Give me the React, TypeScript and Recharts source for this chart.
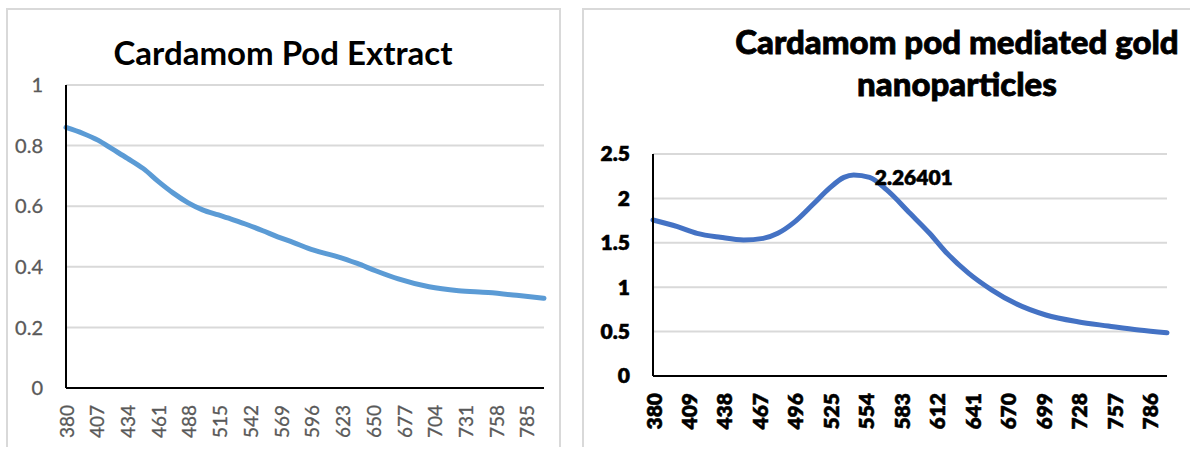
import React from 'react';
import { LineChart, Line, XAxis, YAxis, CartesianGrid } from 'recharts';

// Cardamom pod extract absorbance
const extractNm = [380, 395, 408, 421, 434, 448, 461, 474, 487, 500, 514, 527, 540, 553, 566, 580, 593, 606, 619, 636, 652, 672, 699, 725, 751, 778, 800];
const extractAbs = [0.86, 0.84, 0.818, 0.788, 0.758, 0.724, 0.682, 0.644, 0.612, 0.588, 0.571, 0.555, 0.538, 0.519, 0.499, 0.48, 0.461, 0.446, 0.433, 0.411, 0.387, 0.36, 0.334, 0.321, 0.315, 0.305, 0.296];
const extractTicks = [380, 407, 434, 461, 488, 515, 542, 569, 596, 623, 650, 677, 704, 731, 758, 785];
const extractY = [0, 0.2, 0.4, 0.6, 0.8, 1];

// Gold nanoparticles absorbance
const goldNm = [380, 400, 416, 435, 454, 470, 482, 495, 511, 524, 536, 544, 557, 571, 590, 606, 619, 638, 657, 676, 701, 727, 752, 777, 800];
const goldAbs = [1.757, 1.682, 1.607, 1.562, 1.532, 1.55, 1.607, 1.727, 1.937, 2.113, 2.237, 2.26401, 2.237, 2.095, 1.832, 1.607, 1.4, 1.156, 0.968, 0.818, 0.687, 0.611, 0.563, 0.518, 0.488];
const goldTicks = [380, 409, 438, 467, 496, 525, 554, 583, 612, 641, 670, 699, 728, 757, 786];
const goldY = [0, 0.5, 1, 1.5, 2, 2.5];

const extractData = extractNm.map((nm, i) => ({ nm, abs: extractAbs[i] }));
const goldData = goldNm.map((nm, i) => ({ nm, abs: goldAbs[i] }));
const peakIdx = goldAbs.indexOf(Math.max(...goldAbs));

const FONT = 'Lato, "Open Sans", sans-serif';

const RotTick = ({ x, y, payload, fill, weight, size, sw }: any) => (
  <text
    x={x}
    y={y}
    transform={`rotate(-90, ${x}, ${y})`}
    textAnchor="end"
    dominantBaseline="central"
    fill={fill}
    stroke={fill}
    strokeWidth={sw}
    fontWeight={weight}
    fontSize={size}
    fontFamily={FONT}
  >
    {payload.value}
  </text>
);

const PeakLabel = ({ x, y, index }: any) => {
  if (index !== peakIdx) return null;
  return (
    <text x={x + 21} y={y + 2} dominantBaseline="central" fontSize={21} fontWeight={800} fill="#000" stroke="#000" strokeWidth={0.5} fontFamily={FONT}>
      {goldAbs[peakIdx]}
    </text>
  );
};

const panel = (left: number, top: number, width: number): React.CSSProperties => ({
  position: 'absolute',
  left,
  top,
  width,
  height: 447 - top,
  borderTop: '2px solid #d9d9d9',
  borderLeft: '2px solid #d9d9d9',
  borderRight: '2px solid #d9d9d9',
  boxSizing: 'border-box',
});

export default function App() {
  return (
    <div style={{ position: 'absolute', left: 0, top: 0, width: 1190, height: 449, background: '#fff', overflow: 'hidden', fontFamily: FONT }}>
      <div style={panel(6, 8, 555)} />
      <div style={{ ...panel(582, 8, 640), borderRight: 'none' }} />

      <div style={{ position: 'absolute', left: 0, width: 566, top: 32, textAlign: 'center', fontSize: 33, fontWeight: 700, color: '#000', lineHeight: '40px', whiteSpace: 'nowrap' }}>
        Cardamom Pod Extract
      </div>
      <div style={{ position: 'absolute', left: 757, width: 400, top: 20, textAlign: 'center', fontSize: 33, fontWeight: 900, color: '#000', lineHeight: '42px', whiteSpace: 'nowrap', WebkitTextStroke: '0.8px #000' }}>
        <div style={{ marginLeft: -150, marginRight: -150 }}>Cardamom pod mediated gold</div>
        <div>nanoparticles</div>
      </div>

      <div style={{ position: 'absolute', left: 0, top: 0 }}>
        <LineChart width={575} height={449} data={extractData} margin={{ top: 85, right: 31, left: 16, bottom: 0 }}>
          <CartesianGrid vertical={false} stroke="#d9d9d9" strokeWidth={2} />
          <XAxis
            dataKey="nm"
            type="number"
            domain={[380, 800]}
            ticks={extractTicks}
            interval={0}
            height={61}
            tickSize={0}
            tickMargin={17}
            axisLine={{ stroke: '#000', strokeWidth: 2 }}
            tickLine={false}
            tick={<RotTick fill="#595959" weight={400} size={19} sw={0.3} />}
          />
          <YAxis
            type="number"
            domain={[0, 1]}
            ticks={extractY}
            width={50}
            tickSize={0}
            tickMargin={23}
            axisLine={{ stroke: '#000', strokeWidth: 2 }}
            tickLine={false}
            tick={{ fill: '#595959', stroke: '#595959', strokeWidth: 0.3, fontSize: 20, fontFamily: FONT }}
          />
          <Line type="monotone" dataKey="abs" stroke="#5b9bd5" strokeWidth={5} dot={false} isAnimationActive={false} strokeLinecap="round" />
        </LineChart>
      </div>

      <div style={{ position: 'absolute', left: 583, top: 0 }}>
        <LineChart width={607} height={449} data={goldData} margin={{ top: 154, right: 23, left: 20, bottom: 0 }}>
          <CartesianGrid vertical={false} stroke="#d9d9d9" strokeWidth={2} />
          <XAxis
            dataKey="nm"
            type="number"
            domain={[380, 800]}
            ticks={goldTicks}
            interval={0}
            height={73}
            tickSize={0}
            tickMargin={17}
            axisLine={{ stroke: '#000', strokeWidth: 2 }}
            tickLine={false}
            tick={<RotTick fill="#000" weight={800} size={21} sw={0.5} />}
          />
          <YAxis
            type="number"
            domain={[0, 2.5]}
            ticks={goldY}
            width={50}
            tickSize={0}
            tickMargin={23}
            axisLine={{ stroke: '#000', strokeWidth: 2 }}
            tickLine={false}
            tick={{ fill: '#000', stroke: '#000', strokeWidth: 0.5, fontSize: 21, fontWeight: 800, fontFamily: FONT }}
          />
          <Line
            type="monotone"
            dataKey="abs"
            stroke="#4472c4"
            strokeWidth={5}
            dot={false}
            isAnimationActive={false}
            strokeLinecap="round"
            label={<PeakLabel />}
          />
        </LineChart>
      </div>
    </div>
  );
}
